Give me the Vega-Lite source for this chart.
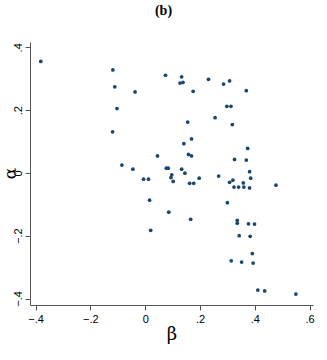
{
  "$schema": "https://vega.github.io/schema/vega-lite/v6.json",
  "autosize": {"type": "none"},
  "width": 283,
  "height": 263,
  "padding": {"left": 30, "top": 42, "right": 14, "bottom": 55},
  "background": "white",
  "config": {"view": {"stroke": null}},
  "title": {"text": "(b)", "font": "Liberation Serif", "fontWeight": "bold", "fontSize": 14, "color": "#000000", "anchor": "middle", "dx": -8, "offset": 24},
  "data": {"values": [
    {"beta": -0.381, "alpha": 0.355},
    {"beta": -0.118, "alpha": 0.328},
    {"beta": -0.111, "alpha": 0.274},
    {"beta": -0.103, "alpha": 0.205},
    {"beta": -0.119, "alpha": 0.131},
    {"beta": -0.037, "alpha": 0.258},
    {"beta": -0.085, "alpha": 0.025},
    {"beta": -0.045, "alpha": 0.012},
    {"beta": -0.006, "alpha": -0.020},
    {"beta": 0.012, "alpha": -0.020},
    {"beta": 0.016, "alpha": -0.087},
    {"beta": 0.020, "alpha": -0.183},
    {"beta": 0.045, "alpha": 0.054},
    {"beta": 0.074, "alpha": 0.311},
    {"beta": 0.077, "alpha": 0.015},
    {"beta": 0.084, "alpha": 0.015},
    {"beta": 0.097, "alpha": -0.006},
    {"beta": 0.094, "alpha": -0.015},
    {"beta": 0.102, "alpha": -0.027},
    {"beta": 0.086, "alpha": -0.125},
    {"beta": 0.133, "alpha": 0.306},
    {"beta": 0.127, "alpha": 0.286},
    {"beta": 0.138, "alpha": 0.288},
    {"beta": 0.133, "alpha": 0.012},
    {"beta": 0.145, "alpha": -0.001},
    {"beta": 0.155, "alpha": 0.162},
    {"beta": 0.169, "alpha": 0.108},
    {"beta": 0.141, "alpha": 0.093},
    {"beta": 0.158, "alpha": 0.059},
    {"beta": 0.169, "alpha": 0.054},
    {"beta": 0.162, "alpha": -0.033},
    {"beta": 0.177, "alpha": -0.033},
    {"beta": 0.166, "alpha": -0.148},
    {"beta": 0.175, "alpha": 0.260},
    {"beta": 0.197, "alpha": -0.017},
    {"beta": 0.231, "alpha": 0.298},
    {"beta": 0.255, "alpha": 0.176},
    {"beta": 0.268, "alpha": -0.010},
    {"beta": 0.286, "alpha": 0.283},
    {"beta": 0.308, "alpha": 0.293},
    {"beta": 0.298, "alpha": 0.212},
    {"beta": 0.313, "alpha": 0.212},
    {"beta": 0.318, "alpha": 0.154},
    {"beta": 0.300, "alpha": -0.095},
    {"beta": 0.308, "alpha": -0.030},
    {"beta": 0.320, "alpha": -0.023},
    {"beta": 0.324, "alpha": -0.045},
    {"beta": 0.341, "alpha": -0.045},
    {"beta": 0.360, "alpha": -0.045},
    {"beta": 0.381, "alpha": -0.048},
    {"beta": 0.358, "alpha": -0.032},
    {"beta": 0.326, "alpha": 0.043},
    {"beta": 0.369, "alpha": 0.041},
    {"beta": 0.374, "alpha": 0.078},
    {"beta": 0.381, "alpha": 0.004},
    {"beta": 0.385, "alpha": -0.017},
    {"beta": 0.369, "alpha": 0.262},
    {"beta": 0.477, "alpha": -0.039},
    {"beta": 0.336, "alpha": -0.151},
    {"beta": 0.336, "alpha": -0.160},
    {"beta": 0.377, "alpha": -0.162},
    {"beta": 0.399, "alpha": -0.163},
    {"beta": 0.343, "alpha": -0.200},
    {"beta": 0.383, "alpha": -0.202},
    {"beta": 0.391, "alpha": -0.257},
    {"beta": 0.314, "alpha": -0.280},
    {"beta": 0.352, "alpha": -0.284},
    {"beta": 0.394, "alpha": -0.287},
    {"beta": 0.411, "alpha": -0.373},
    {"beta": 0.436, "alpha": -0.376},
    {"beta": 0.550, "alpha": -0.386}
  ]},
  "mark": {"type": "point", "shape": "circle", "filled": true, "size": 14, "opacity": 1, "color": "#1a476f"},
  "encoding": {
    "x": {
      "field": "beta", "type": "quantitative", "title": "β",
      "scale": {"domain": [-0.4204, 0.6124], "nice": false, "zero": false},
      "axis": {
        "values": [-0.4, -0.2, 0, 0.2, 0.4, 0.6],
        "labelExpr": "datum.value == 0 ? '0' : replace(format(datum.value, '.1f'), '0.', '.')",
        "grid": false, "domainColor": "#555555", "tickColor": "#555555", "tickSize": 5,
        "labelFont": "Liberation Sans", "labelFontSize": 11, "labelColor": "#000000", "labelPadding": 3,
        "titleFont": "DejaVu Serif", "titleFontSize": 18, "titleFontWeight": "normal", "titleColor": "#000000", "titlePadding": 1
      }
    },
    "y": {
      "field": "alpha", "type": "quantitative", "title": "α",
      "scale": {"domain": [-0.4207, 0.4169], "nice": false, "zero": false},
      "axis": {
        "values": [-0.4, -0.2, 0, 0.2, 0.4],
        "labelExpr": "datum.value == 0 ? '0' : replace(format(datum.value, '.1f'), '0.', '.')",
        "grid": false, "domainColor": "#555555", "tickColor": "#555555", "tickSize": 5,
        "labelAngle": -90, "labelAlign": "center", "labelBaseline": "bottom",
        "labelFont": "Liberation Sans", "labelFontSize": 11, "labelColor": "#000000", "labelPadding": 2,
        "titleFont": "DejaVu Serif", "titleFontSize": 17, "titleFontWeight": "normal", "titleColor": "#000000",
        "titleAngle": -90, "titleAlign": "center", "titleBaseline": "middle", "titleX": -20, "titleY": 131
      }
    }
  }
}
